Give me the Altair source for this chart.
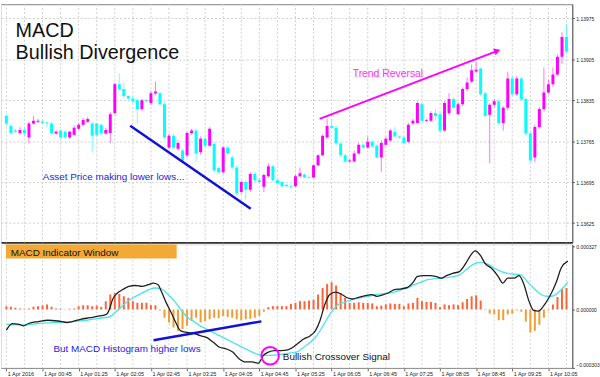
import altair as alt
import pandas as pd

FONT = "Liberation Sans"

# ---------------- 5-minute candles ----------------
opens = [1.13808, 1.13791, 1.13783, 1.13779, 1.13784, 1.13771, 1.13795, 1.13798, 1.13798, 1.13797,
         1.13795, 1.13778, 1.13783, 1.13781, 1.13771, 1.13776, 1.13786, 1.13793, 1.13798, 1.13795,
         1.13795, 1.13793, 1.13778, 1.13779, 1.13813, 1.13862, 1.13854, 1.13842, 1.13838, 1.13835,
         1.13820, 1.13835, 1.13830, 1.13847, 1.13847, 1.13828, 1.13754, 1.13774, 1.13752, 1.13749,
         1.13741, 1.13779, 1.13783, 1.13746, 1.13769, 1.13757, 1.13760, 1.13719, 1.13712, 1.13754,
         1.13737, 1.13720, 1.13678, 1.13695, 1.13682, 1.13709, 1.13698, 1.13687, 1.13705, 1.13722,
         1.13698, 1.13695, 1.13690, 1.13688, 1.13688, 1.13705, 1.13708, 1.13703, 1.13703, 1.13724,
         1.13741, 1.13771, 1.13791, 1.13788, 1.13761, 1.13741, 1.13730, 1.13730, 1.13744, 1.13759,
         1.13754, 1.13764, 1.13757, 1.13737, 1.13759, 1.13766, 1.13781, 1.13773, 1.13771, 1.13764,
         1.13795, 1.13796, 1.13828, 1.13800, 1.13800, 1.13813, 1.13811, 1.13783, 1.13813, 1.13837,
         1.13811, 1.13828, 1.13854, 1.13867, 1.13884, 1.13889, 1.13847, 1.13810, 1.13827, 1.13833,
         1.13796, 1.13822, 1.13872, 1.13845, 1.13872, 1.13837, 1.13778, 1.13737, 1.13789, 1.13820,
         1.13848, 1.13862, 1.13879, 1.13909, 1.13943]
closes = [1.13795, 1.13779, 1.13781, 1.13784, 1.13778, 1.13795, 1.13800, 1.13800, 1.13796, 1.13795,
          1.13779, 1.13781, 1.13771, 1.13771, 1.13781, 1.13788, 1.13793, 1.13801, 1.13803, 1.13774,
          1.13776, 1.13778, 1.13784, 1.13811, 1.13862, 1.13854, 1.13842, 1.13838, 1.13833, 1.13820,
          1.13835, 1.13833, 1.13847, 1.13850, 1.13828, 1.13771, 1.13774, 1.13754, 1.13762, 1.13732,
          1.13779, 1.13783, 1.13744, 1.13769, 1.13757, 1.13786, 1.13715, 1.13712, 1.13754, 1.13744,
          1.13720, 1.13676, 1.13695, 1.13682, 1.13709, 1.13698, 1.13695, 1.13707, 1.13722, 1.13698,
          1.13693, 1.13688, 1.13688, 1.13686, 1.13705, 1.13710, 1.13703, 1.13702, 1.13724, 1.13741,
          1.13774, 1.13791, 1.13788, 1.13761, 1.13741, 1.13730, 1.13732, 1.13744, 1.13759, 1.13754,
          1.13764, 1.13756, 1.13737, 1.13762, 1.13769, 1.13783, 1.13773, 1.13771, 1.13762, 1.13793,
          1.13800, 1.13830, 1.13800, 1.13801, 1.13813, 1.13808, 1.13783, 1.13830, 1.13837, 1.13822,
          1.13828, 1.13854, 1.13865, 1.13886, 1.13887, 1.13845, 1.13808, 1.13827, 1.13833, 1.13796,
          1.13822, 1.13872, 1.13845, 1.13872, 1.13837, 1.13778, 1.13732, 1.13789, 1.13820, 1.13848,
          1.13862, 1.13879, 1.13909, 1.13943, 1.13918]
highs = [1.13811, 1.13795, 1.13786, 1.13789, 1.13788, 1.13798, 1.13808, 1.13803, 1.13801, 1.13798,
         1.13798, 1.13784, 1.13784, 1.13784, 1.13783, 1.13791, 1.13796, 1.13805, 1.13806, 1.13798,
         1.13796, 1.13795, 1.13788, 1.13815, 1.13865, 1.13881, 1.13865, 1.13843, 1.13842, 1.13838,
         1.13837, 1.13837, 1.13850, 1.13867, 1.13850, 1.13832, 1.13778, 1.13778, 1.13766, 1.13752,
         1.13781, 1.13786, 1.13786, 1.13773, 1.13773, 1.13789, 1.13764, 1.13722, 1.13757, 1.13757,
         1.13741, 1.13724, 1.13698, 1.13698, 1.13712, 1.13712, 1.13702, 1.13710, 1.13727, 1.13725,
         1.13700, 1.13697, 1.13692, 1.13690, 1.13708, 1.13720, 1.13710, 1.13707, 1.13725, 1.13742,
         1.13776, 1.13803, 1.13803, 1.13791, 1.13764, 1.13744, 1.13734, 1.13749, 1.13762, 1.13762,
         1.13773, 1.13767, 1.13761, 1.13766, 1.13773, 1.13786, 1.13789, 1.13774, 1.13774, 1.13796,
         1.13803, 1.13833, 1.13832, 1.13803, 1.13816, 1.13820, 1.13815, 1.13833, 1.13847, 1.13840,
         1.13832, 1.13857, 1.13874, 1.13896, 1.13901, 1.13891, 1.13850, 1.13830, 1.13837, 1.13837,
         1.13825, 1.13884, 1.13876, 1.13876, 1.13876, 1.13840, 1.13781, 1.13793, 1.13823, 1.13891,
         1.13870, 1.13891, 1.13913, 1.13951, 1.13965]
lows = [1.13791, 1.13776, 1.13779, 1.13776, 1.13774, 1.13761, 1.13793, 1.13795, 1.13795, 1.13789,
        1.13776, 1.13776, 1.13769, 1.13769, 1.13769, 1.13774, 1.13784, 1.13791, 1.13796, 1.13746,
        1.13773, 1.13774, 1.13776, 1.13762, 1.13811, 1.13850, 1.13838, 1.13835, 1.13830, 1.13795,
        1.13816, 1.13832, 1.13827, 1.13843, 1.13825, 1.13768, 1.13751, 1.13751, 1.13749, 1.13729,
        1.13737, 1.13776, 1.13729, 1.13742, 1.13754, 1.13756, 1.13712, 1.13709, 1.13709, 1.13741,
        1.13717, 1.13673, 1.13675, 1.13665, 1.13678, 1.13695, 1.13693, 1.13678, 1.13702, 1.13695,
        1.13690, 1.13685, 1.13687, 1.13683, 1.13687, 1.13703, 1.13702, 1.13700, 1.13702, 1.13722,
        1.13739, 1.13769, 1.13786, 1.13757, 1.13737, 1.13727, 1.13729, 1.13729, 1.13742, 1.13752,
        1.13752, 1.13754, 1.13736, 1.13712, 1.13757, 1.13764, 1.13771, 1.13769, 1.13761, 1.13762,
        1.13793, 1.13795, 1.13796, 1.13798, 1.13798, 1.13800, 1.13779, 1.13781, 1.13810, 1.13820,
        1.13810, 1.13825, 1.13850, 1.13864, 1.13882, 1.13842, 1.13805, 1.13727, 1.13823, 1.13793,
        1.13783, 1.13818, 1.13842, 1.13842, 1.13833, 1.13774, 1.13729, 1.13729, 1.13786, 1.13816,
        1.13845, 1.13858, 1.13876, 1.13897, 1.13914]

# ---------------- MACD window ----------------
hist = [17e-6, 14e-6, 9e-6, 5e-6, 2e-6, 5e-6, 14e-6, 17e-6, 20e-6, 26e-6,
        14e-6, 5e-6, 3e-6, 1e-6, 3e-6, 5e-6, 17e-6, 22e-6, 22e-6, 17e-6,
        20e-6, 12e-6, 43e-6, 77e-6, 85e-6, 80e-6, 68e-6, 60e-6, 43e-6, 34e-6,
        34e-6, 34e-6, 22e-6, 22e-6, -5e-6, -43e-6, -68e-6, -94e-6, -111e-6, -102e-6,
        -85e-6, -60e-6, -43e-6, -68e-6, -60e-6, -51e-6, -43e-6, -46e-6, -34e-6, -39e-6,
        -43e-6, -51e-6, -56e-6, -51e-6, -48e-6, -43e-6, -34e-6, -12e-6, 12e-6, 17e-6,
        17e-6, 17e-6, 17e-6, 29e-6, 34e-6, 43e-6, 43e-6, 46e-6, 51e-6, 77e-6,
        111e-6, 131e-6, 141e-6, 124e-6, 85e-6, 60e-6, 34e-6, 34e-6, 37e-6, 34e-6,
        34e-6, 31e-6, 17e-6, 20e-6, 26e-6, 31e-6, 29e-6, 29e-6, 17e-6, 31e-6,
        34e-6, 60e-6, 43e-6, 39e-6, 39e-6, 34e-6, 12e-6, 26e-6, 22e-6, 26e-6,
        22e-6, 37e-6, 54e-6, 68e-6, 73e-6, 46e-6, -3e-6, -22e-6, -26e-6, -56e-6,
        -56e-6, -26e-6, -22e-6, -5e-6, -12e-6, -63e-6, -119e-6, -111e-6, -80e-6, -43e-6,
        -5e-6, 26e-6, 65e-6, 106e-6, 111e-6]

macd_at = [0, 1.3, 2.8, 3.8, 4.9, 7.1, 9.2, 11.4, 13.5, 14.6, 16.4, 18.5, 20.7, 22.1, 22.8,
           23.5, 24.6, 25.7, 27.1, 28.6, 30, 31.4, 32.5, 33.6, 34.3, 35.4, 36.5, 37.5, 38.6,
           40, 41.5, 42.9, 44.3, 45.8, 47.2, 48.6, 50.1, 51.5, 52.9, 54.4, 55.8, 56.9, 58,
           59.4, 60.8, 62.3, 63.7, 64.4, 65.8, 67.3, 68.4, 69.4, 70.5, 71.6, 72.9, 74.1, 75.2,
           76.6, 78, 79.5, 80.9, 82, 83, 84.5, 85.9, 87.4, 88.8, 90.2, 90.9, 92.4, 93.8, 95.2,
           96.3, 97.4, 98.8, 100.3, 101.7, 102.8, 103.8, 104.9, 106, 107.4, 108.9, 109.9, 111,
           112.4, 113.5, 114.6, 115.7, 116.7, 117.8, 118.9, 120.3, 121.8, 122.8, 124.3]
macd_v = [-107e-6, -73e-6, -77e-6, -85e-6, -73e-6, -63e-6, -56e-6, -60e-6, -68e-6, -63e-6,
          -51e-6, -43e-6, -34e-6, -26e-6, 0e-6, 51e-6, 85e-6, 102e-6, 119e-6, 124e-6,
          119e-6, 128e-6, 136e-6, 128e-6, 94e-6, 34e-6, -17e-6, -68e-6, -111e-6, -119e-6,
          -124e-6, -136e-6, -145e-6, -170e-6, -196e-6, -204e-6, -221e-6, -255e-6, -272e-6,
          -272e-6, -278e-6, -238e-6, -221e-6, -213e-6, -213e-6, -209e-6, -192e-6, -179e-6,
          -153e-6, -136e-6, -111e-6, -60e-6, 26e-6, 77e-6, 90e-6, 80e-6, 63e-6, 54e-6,
          63e-6, 72e-6, 77e-6, 68e-6, 73e-6, 85e-6, 102e-6, 107e-6, 114e-6, 145e-6, 170e-6,
          175e-6, 175e-6, 170e-6, 162e-6, 175e-6, 187e-6, 196e-6, 238e-6, 281e-6, 303e-6,
          281e-6, 238e-6, 213e-6, 170e-6, 136e-6, 162e-6, 162e-6, 175e-6, 128e-6, 43e-6,
          -5e-6, -9e-6, 17e-6, 68e-6, 145e-6, 213e-6, 250e-6]

sig_at = [0, 2.1, 4.2, 7.1, 10.6, 14.2, 17.8, 21.4, 22.8, 24.6, 27.1, 30, 32.9, 34.3, 35.7,
          37.2, 38.6, 40, 41.5, 42.9, 44.3, 45.8, 47.2, 48.6, 50.1, 51.5, 52.9, 54.4, 55.8,
          57.2, 58.7, 60.1, 61.5, 63, 64.4, 65.8, 67.3, 68.7, 70.1, 71.6, 73, 74.4, 75.9,
          77.3, 78.7, 80.2, 81.6, 83, 84.5, 85.9, 87.4, 88.8, 90.2, 91.7, 93.1, 94.5, 96,
          97.4, 98.8, 100.3, 101.7, 103.1, 104.2, 105.3, 106.7, 108.1, 109.6, 111, 112.4,
          113.9, 115.3, 116.7, 118.2, 119.6, 120.7, 121.8, 123.2, 124.3]
sig_v = [-77e-6, -80e-6, -80e-6, -73e-6, -68e-6, -63e-6, -56e-6, -43e-6, -39e-6, -5e-6,
         46e-6, 85e-6, 111e-6, 106e-6, 80e-6, 43e-6, 0e-6, -39e-6, -63e-6, -85e-6, -102e-6,
         -119e-6, -136e-6, -153e-6, -170e-6, -187e-6, -204e-6, -221e-6, -233e-6, -238e-6,
         -238e-6, -235e-6, -230e-6, -225e-6, -220e-6, -196e-6, -170e-6, -136e-6, -85e-6,
         -26e-6, 17e-6, 34e-6, 46e-6, 56e-6, 63e-6, 68e-6, 77e-6, 80e-6, 85e-6, 90e-6,
         102e-6, 111e-6, 128e-6, 140e-6, 153e-6, 158e-6, 162e-6, 165e-6, 170e-6, 179e-6,
         204e-6, 230e-6, 242e-6, 244e-6, 233e-6, 213e-6, 196e-6, 187e-6, 182e-6, 179e-6,
         145e-6, 111e-6, 80e-6, 68e-6, 68e-6, 80e-6, 111e-6, 141e-6]

# ---------------- axis texts ----------------
time_labels = ["1 Apr 2016", "1 Apr 00:45", "1 Apr 01:25", "1 Apr 02:05", "1 Apr 02:45",
               "1 Apr 03:25", "1 Apr 04:05", "1 Apr 04:45", "1 Apr 05:25", "1 Apr 06:05",
               "1 Apr 06:45", "1 Apr 07:25", "1 Apr 08:05", "1 Apr 08:45", "1 Apr 09:25",
               "1 Apr 10:05"]
label_bars = list(range(0, 121, 8))
grid_bars = list(range(0, 125, 4))
price_ticks = [1.13625, 1.13660, 1.13695, 1.13730, 1.13765, 1.13800, 1.13835,
               1.13870, 1.13905, 1.13940, 1.13975]
macd_ticks = [-0.000303, 0.0, 0.000327]

# ---------------- tables ----------------
n = len(opens)
candles = pd.DataFrame({"j": list(range(n)), "o": opens, "h": highs, "l": lows, "c": closes})
candles["col"] = ["#ff00ff" if c >= o else "#00ffff" for o, c in zip(opens, closes)]
hist_df = pd.DataFrame({"j": list(range(len(hist))), "v": hist})
hist_df["col"] = ["#ff6236" if v >= 0 else "#f29a34" for v in hist]
macd_df = pd.DataFrame({"j": macd_at, "v": macd_v})
sig_df = pd.DataFrame({"j": sig_at, "v": sig_v})
grid_df = pd.DataFrame({"g": grid_bars})

W = 578
xs = alt.Scale(domain=[-0.1, 124.2], nice=False, zero=False)
ps = alt.Scale(domain=[1.13592, 1.13999], nice=False, zero=False)
ms = alt.Scale(domain=[-0.000303, 0.000337], nice=False, zero=False)


def X(field, axis=None):
    return alt.X(field, type="quantitative", scale=xs, axis=axis)


# ======== price window ========
vgrid_top = alt.Chart(grid_df).mark_rule(color="#cfcfcf", strokeDash=[2, 2], strokeWidth=1).encode(
    x=X("g", alt.Axis(orient="top", labels=False, ticks=False, grid=False, domain=True,
                      domainColor="#8c8c8c", title=None))
)
wicks = alt.Chart(candles).mark_rule(strokeWidth=1, opacity=0.55, clip=True).encode(
    x=X("j", alt.Axis(orient="bottom", labels=False, ticks=False, grid=False, domain=True,
                      domainColor="#333333", domainWidth=2, title=None)),
    y=alt.Y("l:Q", scale=ps, axis=alt.Axis(orient="right", values=price_ticks, format=".5f",
                                            grid=True, gridColor="#cfcfcf", gridDash=[2, 2],
                                            domain=True, domainColor="#444444", tickSize=2,
                                            tickColor="#555555", labelFont=FONT, labelFontSize=5,
                                            labelColor="#222222", labelPadding=1.5, title=None)),
    y2="h:Q",
    color=alt.Color("col:N", scale=None),
)
bodies = alt.Chart(candles).mark_bar(width=3, clip=True).encode(
    x=X("j"),
    y=alt.Y("o:Q", scale=ps, title=None),
    y2="c:Q",
    color=alt.Color("col:N", scale=None),
)

price_lines = pd.DataFrame({
    "j": [27.42, 69.35], "j2": [54.09, 108.7],
    "p": [1.137911, 1.138029], "p2": [1.136494, 1.139193],
    "col": ["#1010d8", "#ff00ff"], "w": [2.5, 2],
})
p_lines = alt.Chart(price_lines).mark_rule().encode(
    x=X("j"), x2="j2:Q", y=alt.Y("p:Q", scale=ps, title=None), y2="p2:Q",
    color=alt.Color("col:N", scale=None), size=alt.Size("w:Q", scale=None),
)
arrow_head = alt.Chart(pd.DataFrame({"j": [108.7], "p": [1.139193]})).mark_point(
    shape="triangle-right", filled=True, angle=339.3, size=55, color="#ff00ff", opacity=1
).encode(x=X("j"), y=alt.Y("p:Q", scale=ps, title=None))

price_texts = pd.DataFrame({
    "j": [2.04, 2.04, 76.67, 8.06],
    "p": [1.139424, 1.139047, 1.138746, 1.136992],
    "txt": ["MACD", "Bullish Divergence", "Trend Reversal", "Asset Price making lower lows..."],
    "fs": [20, 20, 10.5, 10],
    "col": ["#111111", "#111111", "#ff2aff", "#1c1ce0"],
})
p_texts = alt.Chart(price_texts).mark_text(align="left", baseline="alphabetic", font=FONT).encode(
    x=X("j"), y=alt.Y("p:Q", scale=ps, title=None), text="txt:N",
    size=alt.Size("fs:Q", scale=None), color=alt.Color("col:N", scale=None),
)

top = alt.layer(vgrid_top, wicks, bodies, p_lines, arrow_head, p_texts).resolve_axis(
    x="independent"
).properties(width=W, height=241)

# ======== MACD window ========
label_expr = "[" + ",".join("'" + t + "'" for t in time_labels) + "][round(datum.value / 8)]"
bottom_xaxis = alt.Axis(orient="bottom", values=label_bars, labelExpr=label_expr, labelAlign="left",
                        labelBaseline="top", labelFont=FONT, labelFontSize=5.5,
                        labelColor="#222222", labelPadding=1, labelOffset=1, labelFlush=False,
                        labelOverlap=False, tickSize=3, tickColor="#666666", grid=False,
                        domain=True, domainColor="#8c8c8c", title=None)


def XB(field):
    return alt.X(field, type="quantitative", scale=xs, axis=bottom_xaxis)


vgrid_bot = alt.Chart(grid_df).mark_rule(color="#d4d4d4", strokeDash=[2, 2], strokeWidth=1).encode(
    x=XB("g")
)
bars = alt.Chart(hist_df).mark_bar(width=2, clip=True).encode(
    x=XB("j"),
    y=alt.Y("v:Q", scale=ms, axis=alt.Axis(
        orient="right", values=macd_ticks, format=".6f", grid=False, domain=True,
        domainColor="#444444", tickSize=2, tickColor="#555555", labelFont=FONT,
        labelFontSize=5, labelColor="#222222", labelPadding=1.5, title=None,
        labelBaseline={"condition": {"test": "datum.value < 0", "value": "bottom"},
                       "value": "middle"})),
    y2=alt.datum(0),
    color=alt.Color("col:N", scale=None),
)
sig_line = alt.Chart(sig_df).mark_line(color="#4fe4ea", strokeWidth=1.4, interpolate="monotone",
                                       clip=True).encode(
    x=XB("j"), y=alt.Y("v:Q", scale=ms, title=None))
macd_line = alt.Chart(macd_df).mark_line(color="#1e1e1e", strokeWidth=1.3, interpolate="monotone",
                                         clip=True).encode(
    x=XB("j"), y=alt.Y("v:Q", scale=ms, title=None))

box = alt.Chart(pd.DataFrame({"j": [-0.1], "j2": [37.7], "v": [264e-6], "v2": [337e-6]})).mark_rect(
    color="#f3a935", clip=True).encode(x=XB("j"), x2="j2:Q", y=alt.Y("v:Q", scale=ms, title=None),
                                       y2="v2:Q")
macd_rule = alt.Chart(pd.DataFrame({"j": [32.58], "j2": [56.45], "v": [-160e-6], "v2": [-62e-6]})
                      ).mark_rule(color="#1010d8", strokeWidth=2.5).encode(
    x=XB("j"), x2="j2:Q", y=alt.Y("v:Q", scale=ms, title=None), y2="v2:Q")
circle = alt.Chart(pd.DataFrame({"j": [58.39], "v": [-240e-6]})).mark_point(
    shape="circle", filled=False, size=314, strokeWidth=2, color="#ff00ff", opacity=1
).encode(x=XB("j"), y=alt.Y("v:Q", scale=ms, title=None))
macd_texts = pd.DataFrame({
    "j": [0.97, 10.43, 61.2],
    "v": [278e-6, -221e-6, -262e-6],
    "txt": ["MACD Indicator Window", "But MACD Histogram higher lows", "Bullish Crossover Signal"],
    "col": ["#111111", "#1c1ce0", "#111111"],
})
m_texts = alt.Chart(macd_texts).mark_text(align="left", baseline="alphabetic", font=FONT,
                                          fontSize=10).encode(
    x=XB("j"), y=alt.Y("v:Q", scale=ms, title=None), text="txt:N",
    color=alt.Color("col:N", scale=None))

bottom = alt.layer(vgrid_bot, bars, sig_line, macd_line, box, macd_rule, circle, m_texts
                   ).properties(width=W, height=125)

chart = alt.vconcat(top, bottom, spacing=0).properties(
    padding={"left": 0, "top": 1, "right": 0, "bottom": 0}
).configure_view(stroke="transparent").configure(background="white")

chart.save("out.html", embed_options={"renderer": "svg", "actions": False})
